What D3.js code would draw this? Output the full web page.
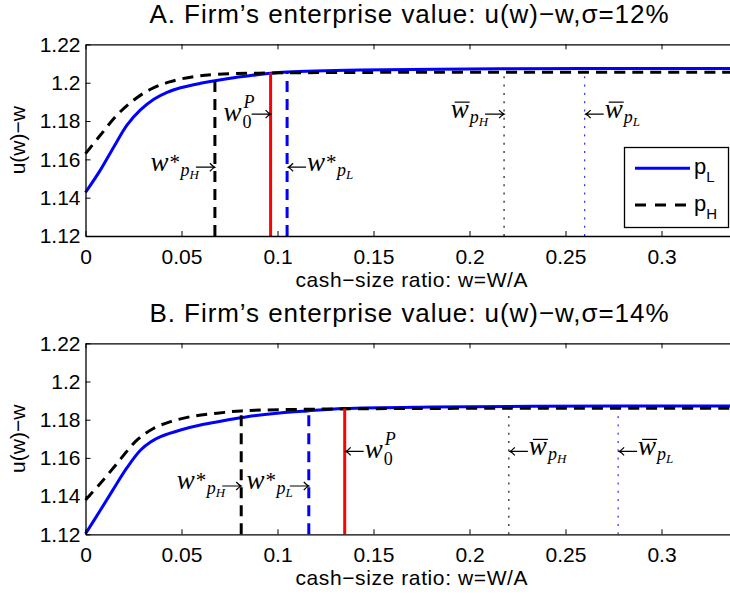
<!DOCTYPE html>
<html>
<head>
<meta charset="utf-8">
<script src="https://cdn.jsdelivr.net/npm/d3@7"></script>
<style>
body { margin: 0; background: #fff; }
svg { display: block; }
text { font-family: "Liberation Sans", Arial, sans-serif; fill: #000; }
.math { font-family: "Liberation Serif", "Times New Roman", serif; font-style: italic; }
</style>
</head>
<body>
<div id="graphContainer"></div>
<script>

// axis ticks (both panels)
const xTicks = [0, 0.05, 0.1, 0.15, 0.2, 0.25, 0.3];
const xTickLabels = ["0", "0.05", "0.1", "0.15", "0.2", "0.25", "0.3"];
const yTicks = [1.12, 1.14, 1.16, 1.18, 1.2, 1.22];
const yTickLabels = ["1.12", "1.14", "1.16", "1.18", "1.2", "1.22"];

// panel A, sigma = 12%
const wA_pL = [0, 0.0078, 0.0148, 0.0217, 0.0286, 0.0356, 0.0425, 0.0495, 0.0599, 0.0738, 0.0842, 0.0964, 0.105, 0.143, 0.2, 0.26, 0.34];
const vA_pL = [1.1427, 1.1545, 1.1666, 1.1780, 1.1858, 1.1914, 1.1950, 1.1974, 1.1997, 1.2021, 1.2035, 1.2050, 1.2056, 1.2066, 1.2072, 1.2074, 1.2074];
const wA_pH = [0, 0.0078, 0.0165, 0.0252, 0.0339, 0.0443, 0.0564, 0.0674, 0.09, 0.15, 0.218, 0.34];
const vA_pH = [1.1630, 1.1727, 1.1832, 1.1910, 1.1966, 1.2006, 1.2032, 1.2043, 1.2050, 1.2054, 1.2055, 1.2055];

// panel B, sigma = 14%
const wB_pL = [0, 0.0078, 0.0148, 0.0217, 0.0286, 0.0339, 0.0391, 0.0495, 0.0616, 0.0738, 0.0842, 0.0998, 0.1155, 0.1345, 0.18, 0.2774, 0.34];
const vB_pL = [1.1203, 1.1327, 1.1441, 1.1550, 1.1640, 1.1683, 1.1711, 1.1746, 1.1776, 1.1798, 1.1816, 1.1834, 1.1846, 1.1858, 1.1866, 1.1872, 1.1872];
const wB_pH = [0, 0.0078, 0.0165, 0.0269, 0.0356, 0.0443, 0.0564, 0.0686, 0.0811, 0.12, 0.2205, 0.34];
const vB_pH = [1.1380, 1.1467, 1.1572, 1.1694, 1.1755, 1.1790, 1.1819, 1.1834, 1.1846, 1.1855, 1.1860, 1.1860];

// thresholds: w*_pH, w*_pL, w0^P, wbar_pH, wbar_pL
const markNames = ["starH", "starL", "w0P", "barH", "barL"];
const markA_w = [0.0674, 0.105, 0.0964, 0.218, 0.26];
const markA_top = [1.2043, 1.2056, 1.2053, 1.2050, 1.2050];
const markB_w = [0.0811, 0.1163, 0.135, 0.2205, 0.2774];
const markB_top = [1.1846, 1.1847, 1.1858, 1.1858, 1.1858];

// arrow label height (data units) and which side the label sits on
const labelA_y = [1.1559, 1.1559, 1.1836, 1.1836, 1.1836];
const labelA_side = ["left", "right", "left", "left", "right"];
const labelB_y = [1.1453, 1.1453, 1.1634, 1.1634, 1.1634];
const labelB_side = ["left", "left", "right", "right", "right"];

const markStyle = {
    starH: {color: "#000", width: 3, dash: "11,7"},
    starL: {color: "#0000ff", width: 3, dash: "11,7"},
    w0P:   {color: "#ff0000", width: 3, dash: null},
    barH:  {color: "#000", width: 1.1, dash: "2,6.3"},
    barL:  {color: "#0000ff", width: 1, dash: "2,6.3"},
};
const markLabel = {
    starH: {bar: false, sup: "*", sub: "p", subsub: "H"},
    starL: {bar: false, sup: "*", sub: "p", subsub: "L"},
    w0P:   {bar: false, sup: "P", sub: "0", subsub: ""},
    barH:  {bar: true, sup: "", sub: "p", subsub: "H"},
    barL:  {bar: true, sup: "", sub: "p", subsub: "L"},
};

const panels = [
    {title: "A. Firm\u2019s enterprise value: u(w)\u2212w,\u03c3=12%", top: 44.4, bottom: 236,
     wL: wA_pL, vL: vA_pL, wH: wA_pH, vH: vA_pH, markW: markA_w, markTop: markA_top,
     labelY: labelA_y, labelSide: labelA_side, legend: true},
    {title: "B. Firm\u2019s enterprise value: u(w)\u2212w,\u03c3=14%", top: 343.3, bottom: 534.3,
     wL: wB_pL, vL: vB_pL, wH: wB_pH, vH: vB_pH, markW: markB_w, markTop: markB_top,
     labelY: labelB_y, labelSide: labelB_side, legend: false},
];

const svg = d3.select("#graphContainer").append("svg")
    .attr("width", 730)
    .attr("height", 597);

const x = d3.scaleLinear().domain([0, 0.34]).range([85.5, 738.3]);

function drawArrow(g, x1, x2, y) {
    // head at x2
    const dir = x2 > x1 ? 1 : -1;
    g.append("path")
        .attr("d", `M${x1},${y}L${x2},${y}` +
            `M${x2 - dir * 5},${y - 4}Q${x2 - dir * 2},${y - 0.8} ${x2},${y}` +
            `Q${x2 - dir * 2},${y + 0.8} ${x2 - dir * 5},${y + 4}`)
        .attr("fill", "none")
        .attr("stroke", "#000")
        .attr("stroke-width", 1.2);
}

function mathLabel(g, spec) {
    // one text element: w, superscript, subscript, sub-subscript; baseline at 0
    const t = g.append("text").attr("class", "math");
    const w = t.append("tspan").attr("x", 0).attr("y", 0)
        .style("font-size", "27px").text("w");
    const wW = w.node().getComputedTextLength();
    if (spec.bar) {
        g.append("line")
            .attr("x1", 4).attr("x2", wW + 1)
            .attr("y1", -15.5).attr("y2", -15.5)
            .attr("stroke", "#000").attr("stroke-width", 1.2);
    }
    let right = wW;
    let subX = wW + 1;
    if (spec.sup === "*") {
        // star sits high; subscript starts just after it
        const s = t.append("tspan")
            .attr("x", wW + 1).attr("y", -2)
            .style("font-size", "21px")
            .style("font-style", "normal")
            .text("*");
        const sw = s.node().getComputedTextLength();
        right = wW + 1 + sw;
        subX = wW + 1.5 + sw;
    } else if (spec.sup) {
        const s = t.append("tspan")
            .attr("x", wW + 2).attr("y", -13)
            .style("font-size", "18px")
            .text(spec.sup);
        right = Math.max(right, wW + 2 + s.node().getComputedTextLength());
    }
    const subY = spec.sup === "P" ? 7 : 5;
    const sb = t.append("tspan")
        .attr("x", subX).attr("y", subY)
        .style("font-size", "18px")
        .style("font-style", spec.sub === "0" ? "normal" : "italic")
        .text(spec.sub);
    let subEnd = subX + sb.node().getComputedTextLength();
    if (spec.subsub) {
        const ss = t.append("tspan")
            .attr("x", subEnd).attr("y", subY + 3)
            .style("font-size", "13px")
            .text(spec.subsub);
        subEnd += ss.node().getComputedTextLength();
    }
    return Math.max(right, subEnd);
}

function buildPanel(p) {
    const y = d3.scaleLinear().domain([1.12, 1.22]).range([p.bottom, p.top]);
    const g = svg.append("g");

    // curves
    const line = d3.line()
        .x(d => x(d[0]))
        .y(d => y(d[1]))
        .curve(d3.curveCatmullRom.alpha(0.5));

    g.append("path")
        .datum(p.wL.map((w, i) => [w, p.vL[i]]))
        .attr("d", line)
        .attr("fill", "none")
        .attr("stroke", "#0000ff")
        .attr("stroke-width", 3);

    g.append("path")
        .datum(p.wH.map((w, i) => [w, p.vH[i]]))
        .attr("d", line)
        .attr("fill", "none")
        .attr("stroke", "#000")
        .attr("stroke-width", 3)
        .attr("stroke-dasharray", "11,7");

    // vertical threshold lines
    markNames.forEach(function(name, i) {
        const st = markStyle[name];
        g.append("line")
            .attr("x1", x(p.markW[i])).attr("x2", x(p.markW[i]))
            .attr("y1", y(1.12)).attr("y2", y(p.markTop[i]))
            .attr("stroke", st.color)
            .attr("stroke-width", st.width)
            .attr("stroke-dasharray", st.dash);
    });

    // arrow labels
    markNames.forEach(function(name, i) {
        const lg = g.append("g");
        const lw = mathLabel(lg, markLabel[name]);
        const xm = x(p.markW[i]);
        const ya = y(p.labelY[i]);
        const dy = name === "w0P" ? 7 : 3.5;
        const arrowLen = 19;
        if (p.labelSide[i] === "left") {
            lg.attr("transform", `translate(${xm - arrowLen - lw + 3},${ya + dy})`);
            drawArrow(g, xm - arrowLen, xm, ya);
        } else {
            lg.attr("transform", `translate(${xm + arrowLen + 1},${ya + dy})`);
            drawArrow(g, xm + arrowLen, xm + 1, ya);
        }
    });

    // axes
    const xAxis = g.append("g")
        .attr("transform", `translate(0,${p.bottom})`)
        .call(d3.axisBottom(x).tickValues(xTicks)
            .tickFormat((d, i) => xTickLabels[i])
            .tickSizeInner(-5).tickSizeOuter(0).tickPadding(13));
    const xTop = g.append("g")
        .attr("transform", `translate(0,${p.top})`)
        .call(d3.axisTop(x).tickValues(xTicks).tickFormat("")
            .tickSizeInner(-5).tickSizeOuter(0));
    const yAxis = g.append("g")
        .attr("transform", `translate(${x(0)},0)`)
        .call(d3.axisLeft(y).tickValues(yTicks)
            .tickFormat((d, i) => yTickLabels[i])
            .tickSizeInner(-5).tickSizeOuter(0).tickPadding(5));

    [xAxis, xTop, yAxis].forEach(function(a) {
        a.select(".domain").attr("stroke", "#000").attr("stroke-width", 1.3);
        a.selectAll(".tick line").attr("stroke", "#000").attr("stroke-width", 1);
        a.selectAll("text")
            .style("font-family", "'Liberation Sans', Arial, sans-serif")
            .style("font-size", "21px");
    });

    // titles and labels
    g.append("text")
        .attr("x", 409).attr("y", p.top - 21)
        .attr("text-anchor", "middle")
        .style("font-size", "26px")
        .attr("textLength", 519)
        .text(p.title);

    g.append("text")
        .attr("x", 411.5).attr("y", p.bottom + 50.5)
        .attr("text-anchor", "middle")
        .style("font-size", "21px")
        .attr("textLength", 232)
        .text("cash\u2212size ratio: w=W/A");

    g.append("text")
        .attr("transform", `translate(25,${(p.top + p.bottom) / 2}) rotate(-90)`)
        .attr("text-anchor", "middle")
        .style("font-size", "21px")
        .text("u(w)\u2212w");

    if (p.legend) {
        const lg = g.append("g");
        lg.append("rect")
            .attr("x", 624.5).attr("y", 147.5)
            .attr("width", 104).attr("height", 80)
            .attr("fill", "#fff")
            .attr("stroke", "#000")
            .attr("stroke-width", 1.3);
        lg.append("line")
            .attr("x1", 635).attr("x2", 690)
            .attr("y1", 168.3).attr("y2", 168.3)
            .attr("stroke", "#0000ff").attr("stroke-width", 3);
        lg.append("line")
            .attr("x1", 635).attr("x2", 690)
            .attr("y1", 205).attr("y2", 205)
            .attr("stroke", "#000").attr("stroke-width", 3)
            .attr("stroke-dasharray", "11,9");
        [["L", 173.5], ["H", 210.5]].forEach(function(r) {
            const t = lg.append("text")
                .attr("x", 694).attr("y", r[1])
                .style("font-size", "22px");
            t.append("tspan").text("p");
            t.append("tspan").attr("dy", 8).style("font-size", "15px").text(r[0]);
        });
    }
}

panels.forEach(buildPanel);

</script>
</body>
</html>
